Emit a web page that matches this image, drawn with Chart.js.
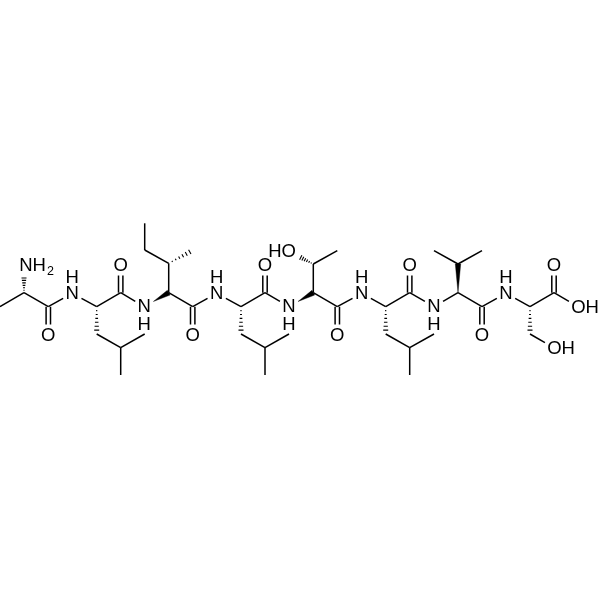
<!DOCTYPE html>
<html><head><meta charset="utf-8">
<style>html,body{margin:0;padding:0;background:#fff}canvas{display:block}</style>
<script src="https://cdn.jsdelivr.net/npm/chart.js@4"></script>
</head><body><canvas id="c" width="600" height="600"></canvas>
<script>
const atomX=[0,24,24,48.3,48.3,72.3,96.7,120.7,120.7,144.3,168.7,168.7,193.3,144.7,144.7,192.7,192.7,216.7,241,265,265,289,313.3,313.3,337.3,289.3,337.3,337.3,361.7,385.7,409.7,409.7,434,458,458,434,482,482,482,506,530,554,554,578,530,554,96.7,120.7,144.7,120.7,241,265,289,265,385.7,409.7,434,409.7];
const atomY=[306.7,292.7,265,306.7,335,293.3,306.7,292.7,265,306.7,292.7,263.3,250,250,223.3,306.7,335,293.3,306.7,292.7,265,306.7,292.7,264,250.7,251.7,306.7,335,293.3,306.7,292.7,265,306.7,292.7,264,250.7,250.7,306.7,335,293.3,306.7,292.7,265,306.7,334,348,334,347.7,334,375,334,347.7,334,375,334,347.7,334,375];
const heteroAtoms=[2,4,5,8,9,16,17,20,21,25,27,28,31,32,38,39,42,43,45];
const bondFrom=[0,1,3,3,5,6,7,7,9,10,11,11,13,10,15,15,17,18,19,19,21,22,23,23,22,26,26,28,29,30,30,32,33,34,34,33,37,37,39,40,41,41,40,44,6,46,47,47,18,50,51,51,29,54,55,55,1];
const bondTo=[1,3,4,5,6,7,8,9,10,11,12,13,14,15,16,17,18,19,20,21,22,23,24,25,26,27,28,29,30,31,32,33,34,35,36,37,38,39,40,41,42,43,44,45,46,47,48,49,50,51,52,53,54,55,56,57,2];
const bondKind=['s','s','d','s','s','s','d','s','w','s','h','s','s','s','d','s','s','s','d','s','w','s','s','h','s','d','s','s','s','d','s','s','w','s','s','s','d','s','s','s','d','s','h','s','h','s','s','s','h','s','s','s','h','s','s','s','h'];
const labelText=['NH','2','N','H','O','O','N','H','O','N','H','O','N','H','O','N','H','HO','O','N','H','O','N','H','O','OH','OH'];
const labelX=[32.5,50.5,72.3,72.3,48.3,120.7,144.3,144.3,192.7,216.7,216.7,265,289,289,337.3,361.7,361.7,282,409.7,434,434,482,506,506,554,585,561];
const labelY=[265,271.5,293.3,277.3,335,265,306.7,324,335,293.3,277.3,265,306.7,324,335,293.3,277.3,251.7,265,306.7,324,335,293.3,277.3,265,307,348];
const labelSize=[18.5,12.5,18.5,18.5,18.5,18.5,18.5,18.5,18.5,18.5,18.5,18.5,18.5,18.5,18.5,18.5,18.5,18.5,18.5,18.5,18.5,18.5,18.5,18.5,18.5,18.5,18.5];

const TRIM=10.5, HALF=2.7, DBL=2.2, HASHES=7, INK='#000';
const lineSet=(data,extra)=>Object.assign({type:'line',data,borderColor:INK,borderWidth:1.5,pointRadius:0,tension:0,clip:false,spanGaps:false,borderCapStyle:'butt',borderJoinStyle:'miter'},extra||{});
const datasets=[];
bondFrom.forEach((a,i)=>{
  const b=bondTo[i];
  let x1=atomX[a],y1=atomY[a],x2=atomX[b],y2=atomY[b];
  const len=Math.hypot(x2-x1,y2-y1),ux=(x2-x1)/len,uy=(y2-y1)/len;
  if(heteroAtoms.includes(a)){x1+=ux*TRIM;y1+=uy*TRIM;}
  if(heteroAtoms.includes(b)){x2-=ux*TRIM;y2-=uy*TRIM;}
  const nx=-uy,ny=ux,k=bondKind[i];
  if(k==='s'){
    datasets.push(lineSet([{x:x1,y:y1},{x:x2,y:y2}]));
  }else if(k==='d'){
    [-DBL,DBL].forEach(o=>datasets.push(lineSet([{x:x1+nx*o,y:y1+ny*o},{x:x2+nx*o,y:y2+ny*o}])));
  }else if(k==='w'){
    datasets.push(lineSet([{x:x1,y:y1},{x:x2+nx*HALF,y:y2+ny*HALF},{x:x2-nx*HALF,y:y2-ny*HALF},{x:x1,y:y1}],{fill:'shape',backgroundColor:INK,borderWidth:0.4}));
  }else{
    const d=[];
    for(let h=1;h<=HASHES;h++){
      const t=h/HASHES,cx=x1+(x2-x1)*t,cy=y1+(y2-y1)*t,w=HALF*t+0.2;
      d.push({x:cx+nx*w,y:cy+ny*w},{x:cx-nx*w,y:cy-ny*w},{x:NaN,y:NaN});
    }
    datasets.push(lineSet(d,{borderWidth:1.1}));
  }
});

const atomLabels={id:'atomLabels',afterDatasetsDraw(chart){
  const {ctx,scales:{x,y}}=chart;
  ctx.save();ctx.fillStyle=INK;ctx.textAlign='center';ctx.textBaseline='middle';
  labelText.forEach((t,i)=>{
    ctx.font=labelSize[i]+'px "Liberation Sans", Arial, sans-serif';
    ctx.fillText(t,x.getPixelForValue(labelX[i]),y.getPixelForValue(labelY[i])+0.5);
  });
  ctx.restore();
}};

new Chart(document.getElementById('c'),{
  data:{datasets},
  options:{responsive:false,animation:false,events:[],parsing:false,normalized:false,
    layout:{padding:0},
    plugins:{legend:{display:false},tooltip:{enabled:false},title:{display:false}},
    scales:{
      x:{type:'linear',min:0,max:600,display:false},
      y:{type:'linear',min:0,max:600,reverse:true,display:false}
    }},
  plugins:[atomLabels]
});
</script></body></html>
